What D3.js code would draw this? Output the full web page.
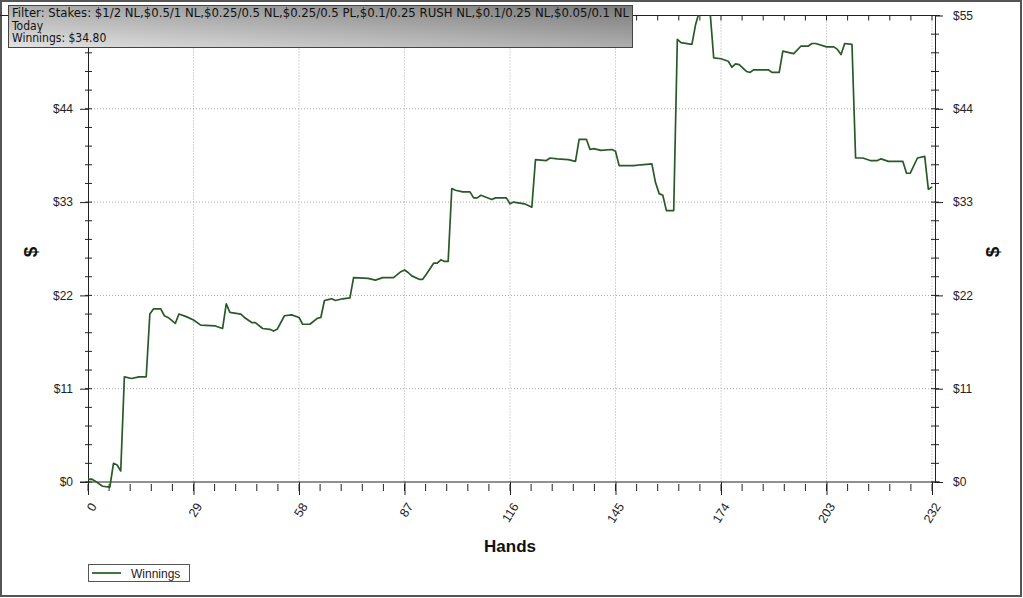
<!DOCTYPE html>
<html>
<head>
<meta charset="utf-8">
<script src="https://cdn.jsdelivr.net/npm/d3@7/dist/d3.min.js"></script>
<style>
  body { margin: 0; background: #fff; }
  svg { font-family: "Liberation Sans", Arial, sans-serif; }
</style>
</head>
<body>
<div id="chart"></div>
<script>
// chart size (same as the browser window)
const width = 1023;
const height = 598;

// hand numbers
const hands = [0,1,2,4,6,7,8,9,10,12,14,16,17,18,20,21,22,24,25,27,29,31,35,37,38,39,42,43,45,46,48,50,51,52,54,56,58,59,61,63,64,65,66,67,68,70,72,73,77,79,81,84,86,87,88,89,91,92,93,95,96,97,98,99,100,101,103,105,106,107,108,111,112,114,115,116,117,120,122,123,126,127,129,132,134,135,137,138,139,141,144,145,146,150,152,155,156,157,158,159,161,162,163,166,167,168,171,172,174,176,177,178,179,181,182,183,187,188,190,191,193,194,196,198,199,200,203,205,206,207,208,210,211,213,215,217,218,220,224,225,226,228,230,231,232];

// running winnings in $ at those hands
const winnings = [0.3,0.35,0.1,-0.5,-0.6,2.2,2.0,1.3,12.4,12.2,12.4,12.4,19.8,20.4,20.4,19.6,19.4,18.7,19.8,19.5,19.1,18.5,18.4,18.1,21.0,20.0,19.8,19.4,18.8,18.8,18.1,18.0,17.8,18.0,19.6,19.7,19.4,18.6,18.6,19.3,19.4,21.4,21.5,21.6,21.4,21.6,21.7,24.1,24.0,23.8,24.1,24.1,24.8,25.0,24.7,24.3,23.9,23.9,24.5,25.8,25.8,26.2,26.0,26.0,34.6,34.4,34.2,34.2,33.5,33.5,33.8,33.3,33.5,33.5,33.5,32.8,33.0,32.8,32.4,38.0,37.9,38.2,38.1,38.0,37.8,40.4,40.4,39.2,39.3,39.1,39.2,39.0,37.3,37.3,37.4,37.5,35.3,34.0,33.8,32.0,32.0,52.2,51.8,51.6,53.9,55.4,55.4,50.0,49.9,49.6,48.9,49.3,49.2,48.4,48.3,48.6,48.6,48.3,48.3,50.8,50.6,50.5,51.4,51.4,51.7,51.7,51.3,51.3,51.0,50.4,51.7,51.6,38.2,38.2,37.9,37.9,38.1,37.8,37.8,36.4,36.4,38.2,38.4,34.5,34.8];

// tick labels
const xTicks = [0,29,58,87,116,145,174,203,232];
const yTicks = [0,11,22,33,44,55];

const filterLines = [
  "Filter: Stakes: $1/2 NL,$0.5/1 NL,$0.25/0.5 NL,$0.25/0.5 PL,$0.1/0.25 RUSH NL,$0.1/0.25 NL,$0.05/0.1 NL",
  "Today",
  "Winnings: $34.80"
];

const data = hands.map((h, i) => ({hand: h, value: winnings[i]}));

const svg = d3.select("#chart")
  .append("svg")
  .attr("width", width)
  .attr("height", height);

// scales
const xScale = d3.scaleLinear().domain([0, 232]).range([88, 932]);
const yScale = d3.scaleLinear().domain([0, 55]).range([482, 15.5]);

// minor tick positions (5 per major step)
const xMinor = d3.range(0, 41).map(i => i * 232 / 40);
const yMinor = d3.range(0, 26).map(i => i * 2.2);

// outer frame
svg.append("rect")
  .attr("x", 1).attr("y", 1)
  .attr("width", width - 3).attr("height", height - 3)
  .attr("fill", "none")
  .attr("stroke", "#555")
  .attr("stroke-width", 2);

// dotted grid
svg.append("g")
  .selectAll("line")
  .data(xTicks.slice(1))
  .enter()
  .append("line")
    .attr("x1", d => xScale(d)).attr("x2", d => xScale(d))
    .attr("y1", yScale(55)).attr("y2", yScale(0))
    .attr("stroke", "#aaa")
    .attr("stroke-dasharray", "1,2");

svg.append("g")
  .selectAll("line")
  .data(yTicks.slice(1, 5))
  .enter()
  .append("line")
    .attr("x1", xScale(0)).attr("x2", 935)
    .attr("y1", d => yScale(d)).attr("y2", d => yScale(d))
    .attr("stroke", "#aaa")
    .attr("stroke-dasharray", "1,2");

// axis styling helper
function styleAxis(g) {
  g.selectAll(".domain").attr("stroke", "#222");
  g.selectAll(".tick line").attr("stroke", "#222");
  g.selectAll("text")
    .attr("fill", "#222")
    .attr("font-size", "12px")
    .attr("font-family", "Liberation Sans, Arial, sans-serif");
}

// left y axis ($55 label sits under the filter box, so it is left out)
svg.append("g")
  .attr("transform", "translate(88,0)")
  .call(d3.axisLeft(yScale).tickValues(yTicks).tickSize(8).tickSizeOuter(0).tickPadding(7)
        .tickFormat(d => d === 55 ? "" : "$" + d))
  .call(styleAxis);

svg.append("g")
  .selectAll("line")
  .data(yMinor)
  .enter()
  .append("line")
    .attr("x1", 85).attr("x2", 92)
    .attr("y1", d => yScale(d)).attr("y2", d => yScale(d))
    .attr("stroke", "#222");

// right y axis
svg.append("g")
  .attr("transform", "translate(935,0)")
  .call(d3.axisRight(yScale).tickValues(yTicks).tickSize(8).tickSizeOuter(0).tickPadding(10)
        .tickFormat(d => "$" + d))
  .call(styleAxis);

svg.append("g")
  .selectAll("line")
  .data(yMinor)
  .enter()
  .append("line")
    .attr("x1", 931).attr("x2", 939)
    .attr("y1", d => yScale(d)).attr("y2", d => yScale(d))
    .attr("stroke", "#222");

// bottom x axis
const xAxisG = svg.append("g")
  .attr("transform", "translate(0,482)")
  .call(d3.axisBottom(xScale).tickValues(xTicks).tickSize(13).tickSizeOuter(0))
  .call(styleAxis);

xAxisG.select(".domain").attr("d", "M80,0H940");

xAxisG.selectAll("text")
  .attr("x", 0).attr("y", 0)
  .attr("dy", "0.35em")
  .attr("text-anchor", "end")
  .attr("font-size", "12.5px")
  .attr("transform", "translate(5,22) rotate(-58)");

svg.append("g")
  .selectAll("line")
  .data(xMinor)
  .enter()
  .append("line")
    .attr("x1", d => xScale(d)).attr("x2", d => xScale(d))
    .attr("y1", 484).attr("y2", 491)
    .attr("stroke", "#222");

// top x axis (no labels)
svg.append("line")
  .attr("x1", 0).attr("x2", 940)
  .attr("y1", yScale(55)).attr("y2", yScale(55))
  .attr("stroke", "#222");

svg.append("g")
  .selectAll("line")
  .data(xMinor)
  .enter()
  .append("line")
    .attr("x1", d => xScale(d)).attr("x2", d => xScale(d))
    .attr("y1", yScale(55)).attr("y2", yScale(55) + 5)
    .attr("stroke", "#222");

// clip the line to the plot area
svg.append("clipPath")
  .attr("id", "plot-clip")
  .append("rect")
    .attr("x", 80).attr("y", yScale(55))
    .attr("width", 870).attr("height", 490 - yScale(55));

// winnings line
const line = d3.line()
  .x(d => xScale(d.hand))
  .y(d => yScale(d.value));

svg.append("path")
  .datum(data)
  .attr("clip-path", "url(#plot-clip)")
  .attr("d", line)
  .attr("fill", "none")
  .attr("stroke", "#285a28")
  .attr("stroke-width", 1.7)
  .attr("stroke-linejoin", "round");

// axis titles
svg.append("text")
  .attr("x", 510).attr("y", 552)
  .attr("text-anchor", "middle")
  .attr("font-size", "17px")
  .attr("font-weight", "bold")
  .attr("fill", "#111")
  .text("Hands");

[30, 992].forEach(xPos => {
  svg.append("text")
    .attr("transform", `translate(${xPos},252) rotate(-90)`)
    .attr("text-anchor", "middle")
    .attr("dy", "0.35em")
    .attr("font-size", "19px")
    .attr("font-weight", "bold")
    .attr("fill", "#111")
    .text("$");
});

// legend
svg.append("rect")
  .attr("x", 88.5).attr("y", 564.5)
  .attr("width", 101).attr("height", 17)
  .attr("fill", "#fff")
  .attr("stroke", "#555");

svg.append("line")
  .attr("x1", 92).attr("x2", 121)
  .attr("y1", 573).attr("y2", 573)
  .attr("stroke", "#3d7a3d")
  .attr("stroke-width", 2);

svg.append("text")
  .attr("x", 131).attr("y", 577.5)
  .attr("font-size", "12px")
  .attr("fill", "#222")
  .text("Winnings");

// filter box with grey gradient
const grad = svg.append("defs")
  .append("linearGradient")
  .attr("id", "filter-grad")
  .attr("x1", "0").attr("y1", "1")
  .attr("x2", "1").attr("y2", "0");
grad.append("stop").attr("offset", "0%").attr("stop-color", "#e2e2e2");
grad.append("stop").attr("offset", "100%").attr("stop-color", "#7a7a7a");

svg.append("rect")
  .attr("x", 8.5).attr("y", 5.5)
  .attr("width", 624).attr("height", 42)
  .attr("fill", "url(#filter-grad)")
  .attr("stroke", "#444");

svg.append("g")
  .selectAll("text")
  .data(filterLines)
  .enter()
  .append("text")
    .attr("x", 12)
    .attr("y", (d, i) => 17 + i * 12.7)
    .style("font-family", "'DejaVu Sans Condensed', 'DejaVu Sans', sans-serif")
    .style("font-stretch", "condensed")
    .attr("font-size", "12px")
    .attr("fill", "#111")
    .attr("textLength", (d, i) => i === 0 ? 617 : null)
    .attr("lengthAdjust", "spacingAndGlyphs")
    .text(d => d);
</script>
</body>
</html>
